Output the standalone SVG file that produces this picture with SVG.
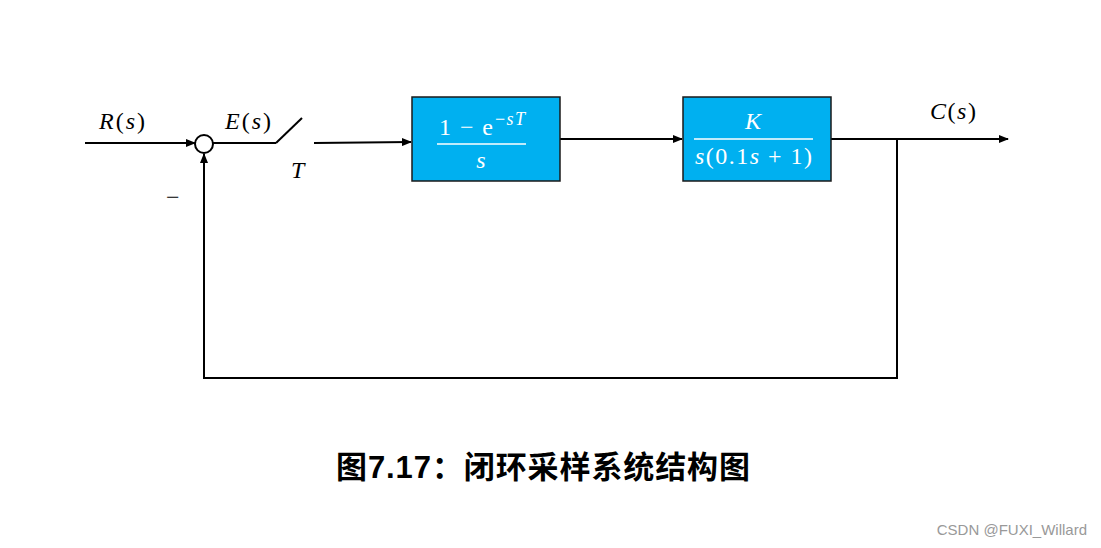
<svg xmlns="http://www.w3.org/2000/svg" width="1101" height="548" viewBox="0 0 1101 548">
<style>
.ln{stroke:#000;stroke-width:2;fill:none}
.box{fill:#00B0F0;stroke:#1a1a1a;stroke-width:1.5}
.m{font-family:"Liberation Serif","DejaVu Serif",serif;font-style:italic;font-size:24px;fill:#000}
.mw{font-family:"Liberation Serif","DejaVu Serif",serif;font-size:24px;fill:#fff}
.title{font-family:"Liberation Sans","Noto Sans CJK SC",sans-serif;font-weight:bold;font-size:31px;fill:#000}
.wm{font-family:"Liberation Sans",Arial,sans-serif;font-size:15px;fill:#999}
</style>
<defs>
<marker id="arr" markerWidth="10" markerHeight="8" refX="9" refY="4" orient="auto" markerUnits="userSpaceOnUse">
<path d="M0,0 L10,4 L0,8 Z" fill="#000"/>
</marker>
</defs>
<rect width="1101" height="548" fill="#fff"/>
<g id="connectors">
<line class="ln" x1="85" y1="143" x2="195" y2="143" marker-end="url(#arr)"/>
<line class="ln" x1="213" y1="143" x2="276" y2="143"/>
<line class="ln" x1="276" y1="143" x2="302" y2="118"/>
<line class="ln" x1="314" y1="143" x2="411" y2="142" marker-end="url(#arr)"/>
<line class="ln" x1="560" y1="139" x2="682" y2="139" marker-end="url(#arr)"/>
<line class="ln" x1="831" y1="139" x2="1008" y2="139" marker-end="url(#arr)"/>
<polyline class="ln" points="897,139 897,378 204,378 204,154" marker-end="url(#arr)"/>
</g>
<g id="sum">
<circle cx="204" cy="144" r="9" fill="#fff" stroke="#000" stroke-width="2"/>
</g>
<g id="labels">
<text class="m" x="99" y="129" textLength="46" lengthAdjust="spacing">R<tspan style="font-style:normal">(</tspan>s<tspan style="font-style:normal">)</tspan></text>
<text class="m" x="225" y="129" textLength="46" lengthAdjust="spacing">E<tspan style="font-style:normal">(</tspan>s<tspan style="font-style:normal">)</tspan></text>
<text class="m" x="291" y="178">T</text>
<text class="m" x="166" y="205" style="font-style:normal">−</text>
<text class="m" x="930" y="119" textLength="46" lengthAdjust="spacing">C<tspan style="font-style:normal">(</tspan>s<tspan style="font-style:normal">)</tspan></text>
</g>
<g id="zoh">
<rect class="box" x="412" y="97" width="148" height="84"/>
<text class="mw" x="439" y="135" textLength="54" lengthAdjust="spacing">1 − e</text>
<text class="mw" x="495" y="125" style="font-size:18px;font-style:italic" textLength="30" lengthAdjust="spacing"><tspan style="font-style:normal">−</tspan>sT</text>
<line x1="437" y1="144" x2="526" y2="144" stroke="#fff" stroke-width="1.5"/>
<text class="mw" x="481" y="168" text-anchor="middle" style="font-style:italic">s</text>
</g>
<g id="plant">
<rect class="box" x="683" y="97" width="148" height="84"/>
<text class="mw" x="753" y="129" text-anchor="middle" style="font-style:italic">K</text>
<line x1="694" y1="139" x2="813" y2="139" stroke="#fff" stroke-width="1.5"/>
<text class="mw" x="695" y="164" textLength="117" lengthAdjust="spacing"><tspan style="font-style:italic">s</tspan>(0.1<tspan style="font-style:italic">s</tspan> + 1)</text>
</g>
<g id="caption">
<text class="title" x="543" y="478" text-anchor="middle" textLength="414" lengthAdjust="spacing">图7.17：闭环采样系统结构图</text>
<text class="wm" x="1087" y="535" text-anchor="end">CSDN @FUXI_Willard</text>
</g>
</svg>
